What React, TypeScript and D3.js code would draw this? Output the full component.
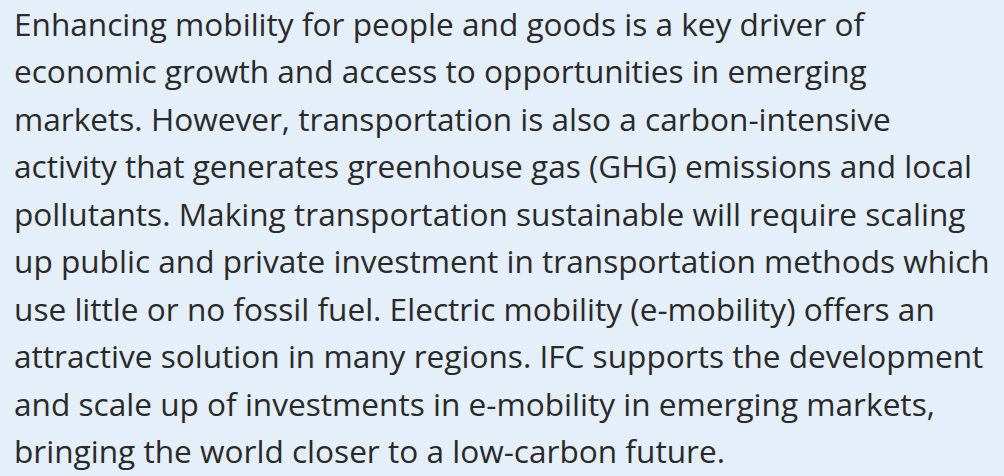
import React from 'react'
import * as d3 from 'd3'

const W = 1004
const H = 476

// paragraph lines as laid out in the original
const lines = [
  'Enhancing mobility for people and goods is a key driver of',
  'economic growth and access to opportunities in emerging',
  'markets. However, transportation is also a carbon-intensive',
  'activity that generates greenhouse gas (GHG) emissions and local',
  'pollutants. Making transportation sustainable will require scaling',
  'up public and private investment in transportation methods which',
  'use little or no fossil fuel. Electric mobility (e-mobility) offers an',
  'attractive solution in many regions. IFC supports the development',
  'and scale up of investments in e-mobility in emerging markets,',
  'bringing the world closer to a low-carbon future.',
]

export default function App() {
  const y = d3.scaleLinear().domain([0, lines.length - 1]).range([36, 463])

  return (
    <svg width={W} height={H} style={{ position: 'absolute', left: 0, top: 0, display: 'block' }}>
      <rect width={W} height={H} fill="#e4eff9" />
      {lines.map((t, i) => (
        <text
          key={i}
          x={14}
          y={y(i)}
          fontFamily="'Open Sans', sans-serif"
          fontSize={31.6}
          fill="#2a2a2a"
        >
          {t}
        </text>
      ))}
    </svg>
  )
}
